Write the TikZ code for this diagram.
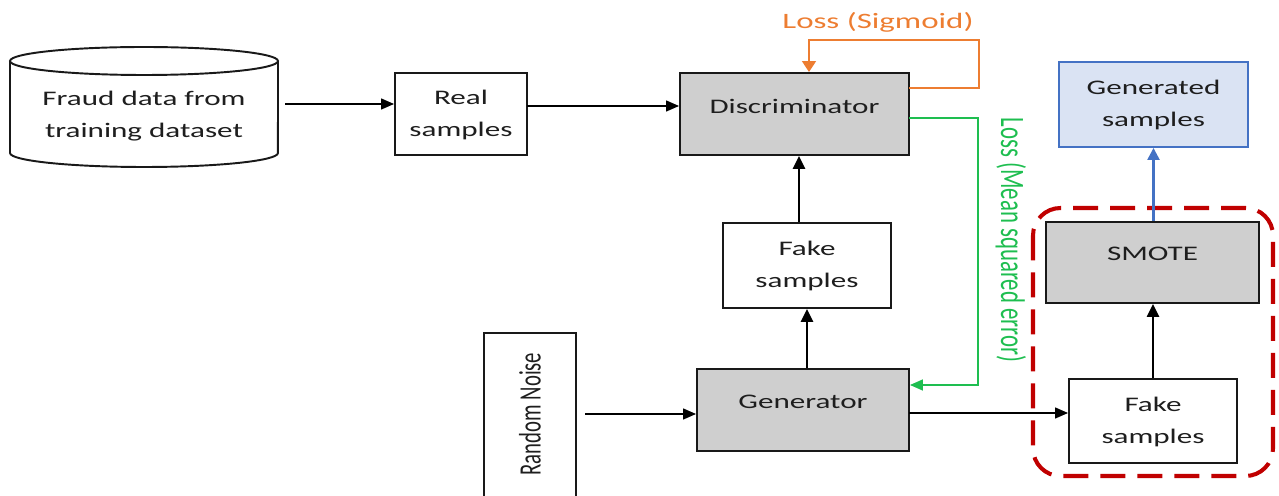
\documentclass[tikz,border=0pt]{standalone}
\usepackage{fontspec}
\setmainfont{Carlito}
\usetikzlibrary{arrows.meta,calc}
\definecolor{boxgray}{RGB}{207,207,207}
\definecolor{txt}{RGB}{30,30,30}
\definecolor{lossorange}{RGB}{237,125,49}
\definecolor{lossgreen}{RGB}{30,190,80}
\definecolor{genblue}{RGB}{68,114,196}
\definecolor{genfill}{RGB}{218,227,243}
\definecolor{smotered}{RGB}{192,0,0}
\newcommand\hs[1]{\scalebox{1.5}[1]{#1}}
\newcommand\twol[2]{\scalebox{1.5}[1]{\begin{tabular}{@{}c@{}}#1\\#2\end{tabular}}}
\begin{document}
\begin{tikzpicture}[x=0.02cm,y=-0.02cm,
  font=\fontsize{11.8}{18.1}\selectfont,
  sz/.style 2 args={minimum width=#1*0.02cm, minimum height=#2*0.02cm},
  box/.style={draw=black!90, line width=1.1pt, fill=white, inner sep=0pt, text=txt},
  gbox/.style={box, fill=boxgray},
  lbl/.style={inner sep=0pt, text=txt},
  cyl/.style={draw=black!90, line width=1.1pt},
  arr/.style={draw=black, line width=0.8pt, -{Triangle[length=0.26cm,width=0.22cm]}},
  tarr/.style={draw=black, line width=1.4pt, -{Triangle[length=0.26cm,width=0.24cm]}},
  oarr/.style={draw=lossorange, line width=0.9pt, -{Triangle[length=0.22cm,width=0.28cm]}},
  garr/.style={draw=lossgreen, line width=0.9pt, -{Triangle[length=0.26cm,width=0.22cm]}},
  barr/.style={draw=genblue, line width=1.4pt, -{Triangle[length=0.24cm,width=0.24cm]}},
  redbox/.style={draw=smotered, line width=2.3pt, dash pattern=on 0.5cm off 0.24cm, rounded corners=0.55cm}
]
\useasboundingbox (0,0) rectangle (1279,496);

% cylinder
\draw[cyl, fill=white] (10,61) -- (10,153) arc[start angle=180,end angle=360,x radius=2.68cm,y radius=0.28cm] -- (278,61);
\draw[cyl] (144,61) ellipse[x radius=2.68cm, y radius=0.28cm];
\node[lbl, sz={268}{80}] (data) at (144,115) {\twol{Fraud data from}{training dataset}};

% boxes
\node[box, sz={132}{82}] (real) at (461,114) {\twol{Real}{samples}};
\node[gbox, sz={229}{82}] (disc) at (794.5,114) {};
\node[lbl] (disct) at (794.5,106) {\hs{Discriminator}};
\node[box, sz={168}{85}] (fake1) at (807,265.5) {\twol{Fake}{samples}};
\node[gbox, sz={212}{82}] (gen) at (803,410) {};
\node[lbl] (gent) at (803,402) {\hs{Generator}};
\node[box, sz={92}{187}] (noise) at (530,426.5) {};
\node[lbl] (noiset) at (530,414) {\scalebox{1.5}[1]{\rotatebox{90}{Random Noise}}};

\node[box, draw=genblue, fill=genfill, sz={189}{85}] (gens) at (1153.5,104.5) {\twol{Generated}{samples}};
\node[gbox, sz={213}{81}] (smote) at (1152.5,262.5) {};
\node[lbl] (smotet) at (1152.5,254) {\hs{SMOTE}};
\node[box, sz={168}{84}] (fake2) at (1153,421) {\twol{Fake}{samples}};

\draw[redbox] (1033,208) rectangle (1273,476);

% labels
\node[inner sep=0pt, text=lossorange, font=\fontsize{12.5}{15}\selectfont] (losss) at (878,22) {\hs{Loss (Sigmoid)}};
\node[inner sep=0pt, text=lossgreen, font=\fontsize{13}{15}\selectfont] (lossm) at (1011,240) {\scalebox{1.5}[1]{\rotatebox{-90}{Loss (Mean squared error)}}};

% connectors
\coordinate (dataout) at (285,104);
\draw[arr] (dataout) -- (dataout -| real.west);
\coordinate (realout) at (527,106);
\draw[arr] (realout) -- (realout -| disc.west);

\coordinate (oout) at (909,88);
\coordinate (otop) at (979,40);
\coordinate (oin) at (809,40);
\draw[oarr] (oout) -| (otop) -- (oin) -- (oin |- disc.north);

\coordinate (gout) at (909,118);
\coordinate (gcorner) at (978,385);
\draw[garr] (gout) -| (gcorner) -- (gcorner -| gen.east);

\draw[tarr] (fake1.north -| 799,0) -- (disc.south -| 799,0);
\draw[tarr] (gen.north -| fake1.south) -- (fake1.south);

\coordinate (nout) at (585,414);
\draw[arr] (nout) -- (nout -| gen.west);
\coordinate (genout) at (909,413);
\draw[arr] (genout) -- (genout -| fake2.west);

\draw[tarr] (fake2.north) -- (fake2.north |- smote.south);
\draw[barr] (smote.north -| gens.south) -- (gens.south);
\end{tikzpicture}
\end{document}
